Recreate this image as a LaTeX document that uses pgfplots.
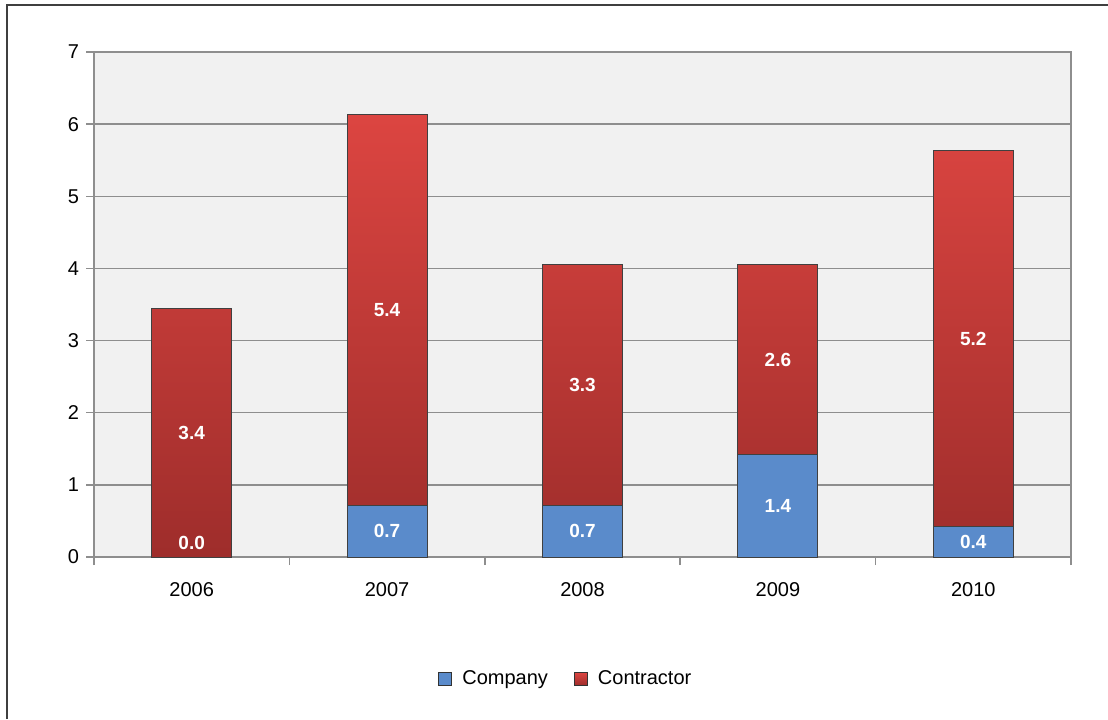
\documentclass[border=0pt]{standalone}
\usepackage{fontspec}
\setmainfont{Liberation Sans}
\usepackage{pgfplots}
\pgfplotsset{compat=1.18}
\definecolor{redtop}{HTML}{DC4541}
\definecolor{redbot}{HTML}{9E2D2B}
\definecolor{compblue}{HTML}{5A8BCB}
\definecolor{plotbg}{HTML}{F1F1F1}
\definecolor{gridgray}{HTML}{8E8E8E}
\definecolor{framegray}{HTML}{3F3F3F}
\begin{document}
\begin{tikzpicture}
\useasboundingbox (0,0) rectangle (554pt,359.5pt);
\draw[framegray, line width=1.2pt] (3.5pt,0) -- (3.5pt,357pt) -- (554pt,357pt);
\begin{axis}[
  at={(47pt,81pt)}, anchor=south west,
  scale only axis, width=488.5pt, height=252.5pt,
  ybar stacked, bar width=40pt,
  xmin=-0.5, xmax=4.5, ymin=0, ymax=7,
  xtick={0,1,2,3,4}, xticklabels={2006,2007,2008,2009,2010},
  minor xtick={-0.5,0.5,1.5,2.5,3.5,4.5},
  ytick={0,1,...,7},
  tick pos=left,
  tick align=outside,
  major tick length=4pt, minor tick length=4pt,
  major x tick style={draw=none},
  minor x tick style={gridgray, line width=0.75pt},
  ytick style={gridgray, line width=0.75pt},
  ymajorgrids, major grid style={gridgray, line width=0.75pt},
  axis line style={gridgray, line width=0.75pt},
  axis background/.style={fill=plotbg},
  tick label style={font=\fontsize{10}{12}\selectfont, text=black},
  /pgf/number format/assume math mode=true,
  xticklabel style={yshift=-5pt},
  legend style={at={(0.484,-0.2416)}, anchor=center, draw=none, fill=none,
    legend columns=2, font=\fontsize{10}{12}\selectfont,
    /tikz/every odd column/.append style={column sep=3pt},
    /tikz/every even column/.append style={column sep=11pt}},
  legend image code/.code={\draw[#1, draw=black!80] (0pt,-3.25pt) rectangle (6.5pt,3.25pt);},
]
\addplot[fill=compblue, draw=black!75, line width=0.5pt] coordinates {(0,0.0) (1,0.72) (2,0.72) (3,1.42) (4,0.42)};
\addlegendentry{Company}
\addplot[draw=black!75, line width=0.5pt, top color=redtop, bottom color=redbot] coordinates {(0,3.44) (1,5.41) (2,3.33) (3,2.63) (4,5.21)};
\addlegendentry{Contractor}
\end{axis}
\begin{axis}[
  at={(47pt,81pt)}, anchor=south west,
  scale only axis, width=488.5pt, height=252.5pt,
  xmin=-0.5, xmax=4.5, ymin=0, ymax=7, hide axis,
  nodes near coords, point meta=explicit symbolic,
  every node near coord/.style={anchor=center, text=white, inner sep=0pt,
    font=\bfseries\fontsize{9.5}{11}\selectfont},
]
\addplot[draw=none, mark=none] table[meta=lab] {
x y lab
0 0.19 0.0
0 1.72 3.4
1 0.36 0.7
1 3.425 5.4
2 0.36 0.7
2 2.385 3.3
3 0.71 1.4
3 2.735 2.6
4 0.21 0.4
4 3.025 5.2
};
\end{axis}
\end{tikzpicture}
\end{document}
